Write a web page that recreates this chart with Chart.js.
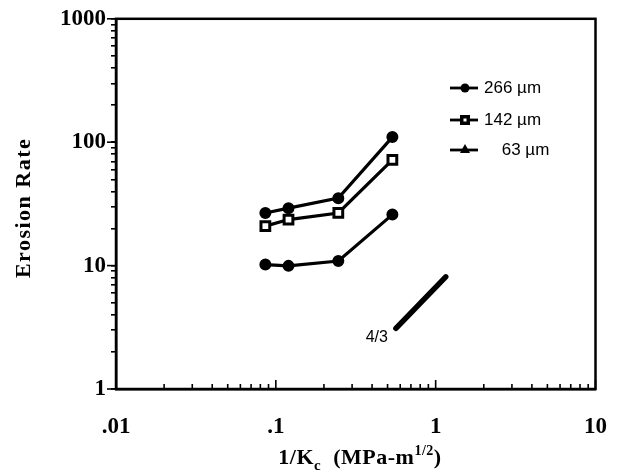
<!DOCTYPE html>
<html><head><meta charset="utf-8">
<script src="https://cdn.jsdelivr.net/npm/chart.js@4.4.1/dist/chart.umd.min.js"></script>
<style>html,body{margin:0;background:#fff}#wrap{width:631px;height:474px}</style>
</head><body>
<div id="wrap"><canvas id="c"></canvas></div>
<script>
// values (log-log)
const INV_KC   = [0.086, 0.12, 0.246, 0.536];
const ER_266   = [26.7, 29.2, 35.2, 110];
const ER_142   = [20.9, 23.6, 26.7, 72];
const ER_63    = [10.2, 9.95, 10.9, 25.9];
const SLOPE_X  = [0.564, 1.156];
const SLOPE_Y  = [3.10, 8.11];
const SLOPE_TXT= '4/3';
const X_TICKS  = [0.01, 0.1, 1, 10];
const X_LABELS = ['.01', '.1', '1', '10'];
const Y_TICKS  = [1, 10, 100, 1000];
const Y_LABELS = ['1', '10', '100', '1000'];
const SERIES   = ['266 µm', '142 µm', ' 63 µm'];
const Y_TITLE  = 'Erosion Rate';

const SERIF='"Liberation Serif","Times New Roman",serif', SANS='"Liberation Sans",Arial,sans-serif';
const pts=ys=>ys.map((y,i)=>({x:INV_KC[i],y}));
const decades=(lo,hi)=>{const t=[];for(let e=lo;e<hi;e++)for(let m=1;m<10;m++)t.push(+(m*Math.pow(10,e)).toPrecision(3));t.push(Math.pow(10,hi));return t;};
const lbl=(ticks,labels)=>v=>{const i=ticks.findIndex(t=>Math.abs(t-v)/t<1e-6);return i<0?'':labels[i];};
const isMajor=(ticks,v)=>ticks.some(t=>Math.abs(t-v)/t<1e-6);

/* frame, inward x ticks, legend, slope label, axis titles */
const decor={id:'decor',afterDraw(ch){
  const {ctx,chartArea:a,scales:{x,y}}=ch;
  ctx.save();
  ctx.strokeStyle='#000';ctx.lineWidth=2.5;
  ctx.strokeRect(a.left,a.top,a.right-a.left,a.bottom-a.top);
  ctx.lineWidth=1.6;
  x.ticks.forEach(t=>{const px=x.getPixelForValue(t.value),l=isMajor(X_TICKS,t.value)?9:5;
    ctx.beginPath();ctx.moveTo(px,a.bottom);ctx.lineTo(px,a.bottom-l);ctx.stroke();});
  y.ticks.forEach(t=>{if(!isMajor(Y_TICKS,t.value))return;const py=y.getPixelForValue(t.value);
    ctx.beginPath();ctx.moveTo(a.left,py);ctx.lineTo(a.left-9,py);ctx.stroke();});
  // legend
  const ly=[88,120,150],tx=[484,484,497];
  ctx.fillStyle='#000';ctx.font='17px '+SANS;ctx.textBaseline='middle';
  SERIES.forEach((s,i)=>{
    ctx.lineWidth=2.8;ctx.beginPath();ctx.moveTo(450,ly[i]);ctx.lineTo(478,ly[i]);ctx.stroke();
    const mx=465;
    if(i===0){ctx.beginPath();ctx.arc(mx,ly[i],4.5,0,Math.PI*2);ctx.fill();}
    else if(i===1){ctx.fillRect(mx-5,ly[i]-5,10,10);ctx.fillStyle='#fff';ctx.fillRect(mx-1.5,ly[i]-1.5,3,3);ctx.fillStyle='#000';}
    else{ctx.beginPath();ctx.moveTo(mx,ly[i]-6);ctx.lineTo(mx+5,ly[i]+3);ctx.lineTo(mx-5,ly[i]+3);ctx.closePath();ctx.fill();}
    ctx.fillText(s,tx[i],ly[i]);
  });
  // slope label
  ctx.textAlign='right';ctx.font='16px '+SANS;
  ctx.fillText(SLOPE_TXT,x.getPixelForValue(SLOPE_X[0])-8,y.getPixelForValue(SLOPE_Y[0])+9);
  // y title
  ctx.save();ctx.translate(24,(a.top+a.bottom)/2+4);ctx.rotate(-Math.PI/2);
  ctx.textAlign='center';ctx.font='bold 22px '+SERIF;ctx.letterSpacing='1.5px';
  ctx.fillText(Y_TITLE,0,0);ctx.restore();
  // x title with sub/superscript
  const parts=[['1/K','22px',0],['c','15px',6],['  (MPa-m','22px',0],['1/2','14px',-9],[')','22px',0]];
  ctx.textAlign='left';ctx.textBaseline='alphabetic';ctx.letterSpacing='0.5px';
  let w=0;parts.forEach(p=>{ctx.font='bold '+p[1]+' '+SERIF;w+=ctx.measureText(p[0]).width;});
  let cx=360-w/2;
  parts.forEach(p=>{ctx.font='bold '+p[1]+' '+SERIF;ctx.fillText(p[0],cx,464+p[2]);cx+=ctx.measureText(p[0]).width;});
  ctx.restore();
}};

const line=(label,data,style,bg,r)=>({label,data,showLine:true,borderColor:'#000',borderWidth:3.2,
  pointStyle:style,pointRadius:r,pointBackgroundColor:bg,pointBorderColor:'#000',pointBorderWidth:3});

new Chart(document.getElementById('c'),{
  type:'scatter',
  data:{datasets:[
    line(SERIES[0],pts(ER_266),'circle','#000',4.5),
    line(SERIES[1],pts(ER_142),'rect','#fff',6.2),
    line(SERIES[2],pts(ER_63),'circle','#000',4.5),
    {label:SLOPE_TXT,data:SLOPE_X.map((v,i)=>({x:v,y:SLOPE_Y[i]})),showLine:true,borderColor:'#000',
     borderWidth:5.5,borderCapStyle:'round',pointRadius:0}
  ]},
  options:{responsive:true,maintainAspectRatio:false,animation:false,
    layout:{padding:{left:0,top:18,right:34,bottom:0}},
    plugins:{legend:{display:false},tooltip:{enabled:false}},
    scales:{
      x:{type:'logarithmic',min:0.01,max:10,
        afterBuildTicks:s=>{s.ticks=decades(-2,1).map(v=>({value:v}));},
        afterFit:s=>{s.height=85;},
        grid:{display:true,drawOnChartArea:false,drawTicks:false,color:'#000'},
        border:{display:true,color:'#000',width:2.5},
        ticks:{autoSkip:false,maxRotation:0,padding:24,color:'#000',font:{family:SERIF,size:23,weight:'bold'},
          callback:lbl(X_TICKS,X_LABELS)}},
      y:{type:'logarithmic',min:1,max:1000,
        afterBuildTicks:s=>{s.ticks=decades(0,3).map(v=>({value:v}));},
        afterFit:s=>{s.width=116;},
        grid:{display:true,drawOnChartArea:false,drawTicks:true,tickLength:5,color:'#000',lineWidth:1.6},
        border:{display:true,color:'#000',width:2.5},
        ticks:{autoSkip:false,padding:5,color:'#000',font:{family:SERIF,size:23,weight:'bold'},
          callback:lbl(Y_TICKS,Y_LABELS)}}
    }
  },
  plugins:[decor]
});
</script>
</body></html>
